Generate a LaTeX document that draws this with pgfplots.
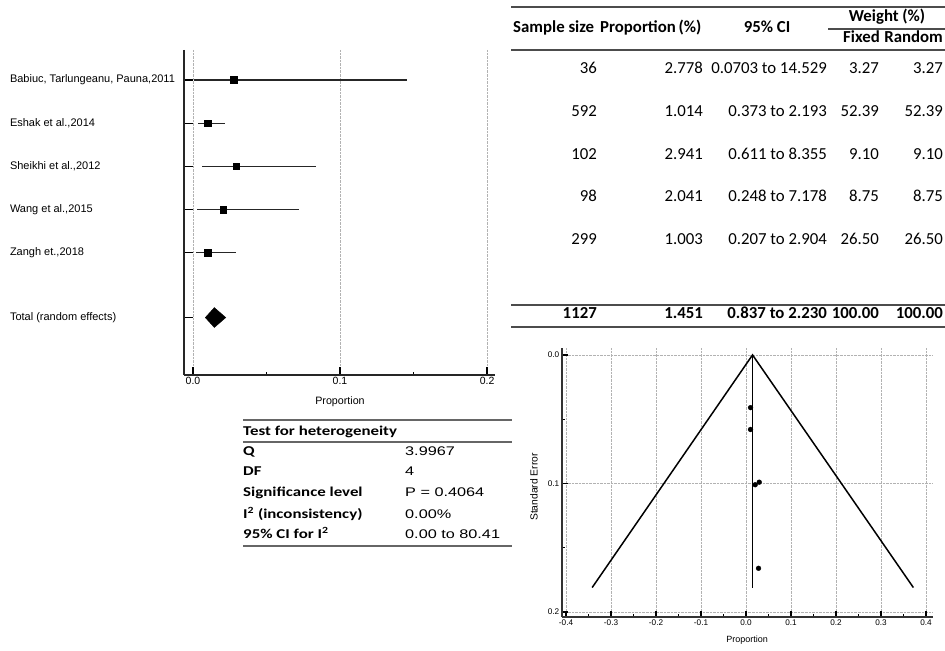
\documentclass[border=0pt]{standalone}
\usepackage{fontspec}
\setmainfont{Liberation Sans}
\newfontfamily\carlito{Carlito}
\newfontfamily\carlitoS[FakeStretch=1.25]{Carlito}
\newfontfamily\arialS[FakeStretch=1.3]{Liberation Sans}
\usepackage{pgfplots}
\pgfplotsset{compat=1.18}
\usepackage{pgfplotstable}

\pgfplotstableread{
row p lo hi
1 0.02778 0.000703 0.14529
2 0.01014 0.00373 0.02193
3 0.02941 0.00611 0.08355
4 0.02041 0.00248 0.07178
5 0.01003 0.00207 0.02904
}\studies

\pgfplotstableread{
p se
0.0101 0.041
0.0100 0.058
0.0204 0.101
0.0294 0.099
0.0278 0.166
}\funnelpts

\newcommand{\tf}{\carlito\fontsize{16.8bp}{20bp}\selectfont}
\newcommand{\hf}{\carlitoS\bfseries\fontsize{13.5bp}{16bp}\selectfont}
\newcommand{\vf}{\arialS\fontsize{12.5bp}{15bp}\selectfont}

\begin{document}
\begin{tikzpicture}
\path[use as bounding box] (0,0) rectangle (945bp,651bp);

% ---------------- Forest plot ----------------
\begin{axis}[
 at={(184bp,276bp)}, anchor=south west, scale only axis,
 width=311bp, height=325bp,
 xmin=-0.00612, xmax=0.2054, ymin=0.306, ymax=7.83, y dir=reverse,
 axis lines*=left,
 axis line style={line width=1.6bp, black!85},
 xtick={0,0.1,0.2}, xticklabels={0.0,0.1,0.2},
 minor xtick={0.05,0.15},
 ytick={1,2,3,4,5,6.5},
 yticklabels={{Babiuc, Tarlungeanu, Pauna,2011},{Eshak et al.,2014},{Sheikhi et al.,2012},{Wang et al.,2015},{Zangh et.,2018},{Total (random effects)}},
 tick align=inside, major tick length=8.5bp, minor tick length=3bp,
 every major tick/.append style={line width=1.3bp, black},
 every minor tick/.append style={line width=0.8bp, black},
 xmajorgrids, major grid style={densely dotted, gray!60, line width=0.6bp},
 x tick label style={font=\fontsize{10.5bp}{12bp}\selectfont, inner sep=2bp},
 yticklabel style={anchor=west, xshift=-177.5bp, font=\fontsize{11bp}{13bp}\selectfont},
 xlabel={Proportion},
 xlabel style={font=\fontsize{10.7bp}{12bp}\selectfont, at={(axis description cs:0.5016,-0.083)}, anchor=center},
 clip=false,
]
\addplot[black, only marks, mark=square*, mark size=3.3bp,
 error bars/.cd, x dir=both, x explicit,
 error bar style={line width=1.2bp, black!85}, error mark=none]
 table[x=p, y=row,
  x error plus expr=\thisrow{hi}-\thisrow{p},
  x error minus expr=\thisrow{p}-\thisrow{lo}] {\studies};
\addplot[fill=black, draw=black] coordinates {(0.00837,6.5) (0.01451,6.27) (0.02230,6.5) (0.01451,6.73) (0.00837,6.5)};
\end{axis}

% ---------------- Funnel plot ----------------
\begin{axis}[
 at={(562bp,34bp)}, anchor=south west, scale only axis,
 width=371bp, height=269bp,
 xmin=-0.409, xmax=0.4156, ymin=-0.0054, ymax=0.2039, y dir=reverse,
 axis lines*=left,
 axis line style={line width=1.5bp, black!80},
 xtick={-0.4,-0.3,-0.2,-0.1,0,0.1,0.2,0.3,0.4},
 xticklabels={-0.4,-0.3,-0.2,-0.1,0.0,0.1,0.2,0.3,0.4},
 minor xtick={-0.35,-0.25,-0.15,-0.05,0.05,0.15,0.25,0.35},
 ytick={0,0.1,0.2}, yticklabels={0.0,0.1,0.2}, minor ytick={0.05,0.15},
 tick align=inside, major tick length=6bp, minor tick length=3bp,
 every major tick/.append style={line width=1.3bp, black},
 every minor tick/.append style={line width=0.7bp, black},
 grid=major, major grid style={densely dotted, gray!60, line width=0.6bp},
 tick label style={font=\fontsize{8.2bp}{10bp}\selectfont, inner sep=2.5bp},
 xlabel={Proportion}, ylabel={Standard Error},
 xlabel style={font=\fontsize{9bp}{11bp}\selectfont, at={(axis description cs:0.4987,-0.0855)}, anchor=center},
 ylabel style={font=\fontsize{10.3bp}{12bp}\selectfont, at={(axis description cs:-0.0755,0.483)}, anchor=center},
 clip=false,
]
\addplot[black, line width=1.5bp] coordinates {(-0.342,0.181) (0.0145,0) (0.372,0.181)};
\addplot[black, line width=1.5bp] coordinates {(0.0145,0) (0.0145,0.181)};
\addplot[black, only marks, mark=*, mark size=2.4bp] table[x=p, y=se] {\funnelpts};
\end{axis}

% ---------------- Study table (top right) ----------------
\begin{scope}[every node/.style={inner sep=0pt}]
\draw[line width=1.5bp, black!70] (511bp,644bp) -- (945bp,644bp);
\draw[line width=1.5bp, black!70] (828bp,622bp) -- (945bp,622bp);
\draw[line width=1.5bp, black!70] (511bp,601bp) -- (945bp,601bp);
\draw[line width=1.5bp, black!70] (511bp,346bp) -- (945bp,346bp);
\draw[line width=1.5bp, black!70] (511bp,324bp) -- (945bp,324bp);
\node[anchor=mid west, font=\tf\bfseries] at (513bp,621bp) {Sample size};
\node[anchor=mid west, font=\tf\bfseries] at (600bp,621bp) {Proportion\,(\%)};
\node[anchor=mid, font=\tf\bfseries] at (767bp,621bp) {95\% CI};
\node[anchor=mid, font=\tf\bfseries] at (887bp,632bp) {Weight (\%)};
\node[anchor=mid east, font=\tf\bfseries] at (880bp,611bp) {Fixed};
\node[anchor=mid east, font=\tf\bfseries] at (943bp,611bp) {Random};
% rows
\foreach \yy/\n/\pr/\ci/\fx/\rd in {580/36/2.778/0.0703 to 14.529/3.27/3.27,
  537/592/1.014/0.373 to 2.193/52.39/52.39,
  494/102/2.941/0.611 to 8.355/9.10/9.10,
  452/98/2.041/0.248 to 7.178/8.75/8.75,
  409/299/1.003/0.207 to 2.904/26.50/26.50}{
 \node[anchor=mid east, font=\tf] at (597bp,\yy bp) {\n};
 \node[anchor=mid east, font=\tf] at (703bp,\yy bp) {\pr};
 \node[anchor=mid east, font=\tf] at (827bp,\yy bp) {\ci};
 \node[anchor=mid east, font=\tf] at (879bp,\yy bp) {\fx};
 \node[anchor=mid east, font=\tf] at (943bp,\yy bp) {\rd};
}
\node[anchor=mid east, font=\tf\bfseries] at (597bp,335bp) {1127};
\node[anchor=mid east, font=\tf\bfseries] at (703bp,335bp) {1.451};
\node[anchor=mid east, font=\tf\bfseries] at (827bp,335bp) {0.837 to 2.230};
\node[anchor=mid east, font=\tf\bfseries] at (879bp,335bp) {100.00};
\node[anchor=mid east, font=\tf\bfseries] at (943bp,335bp) {100.00};

% ---------------- Heterogeneity table ----------------
\draw[line width=1.5bp, black!60] (243bp,231bp) -- (512bp,231bp);
\draw[line width=1.5bp, black!60] (243bp,209bp) -- (512bp,209bp);
\draw[line width=1.5bp, black!60] (243bp,105bp) -- (512bp,105bp);
\node[anchor=mid west, font=\hf] at (243bp,218bp) {Test for heterogeneity};
\node[anchor=mid west, font=\hf] at (243bp,198bp) {Q};
\node[anchor=mid west, font=\hf] at (243bp,178bp) {DF};
\node[anchor=mid west, font=\hf] at (243bp,157bp) {Significance level};
\node[anchor=mid west, font=\hf] at (243bp,135bp) {I\textsuperscript{2} (inconsistency)};
\node[anchor=mid west, font=\hf] at (243bp,115bp) {95\% CI for I\textsuperscript{2}};
\node[anchor=mid west, font=\vf] at (405bp,198bp) {3.9967};
\node[anchor=mid west, font=\vf] at (405bp,178bp) {4};
\node[anchor=mid west, font=\vf] at (405bp,157bp) {P = 0.4064};
\node[anchor=mid west, font=\vf] at (405bp,135bp) {0.00\%};
\node[anchor=mid west, font=\vf] at (405bp,115bp) {0.00 to 80.41};
\end{scope}
\end{tikzpicture}
\end{document}
